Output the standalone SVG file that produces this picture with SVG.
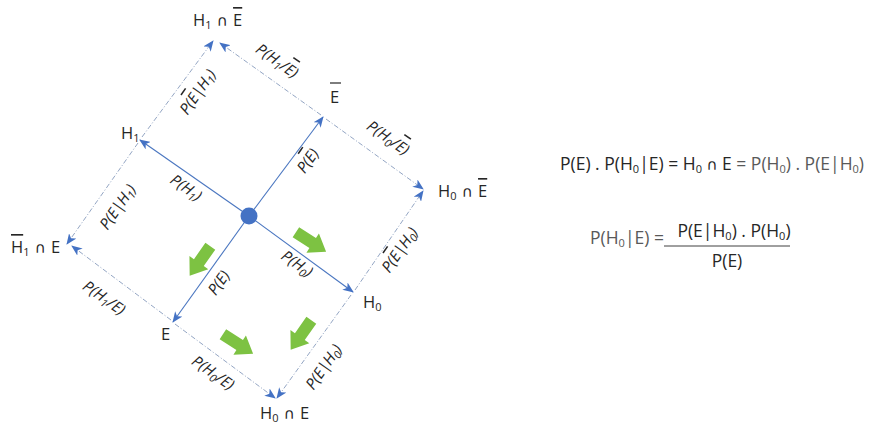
<svg xmlns="http://www.w3.org/2000/svg" width="872" height="425" viewBox="0 0 872 425">
  <style>
    .node { font-family: "Open Sans", "Liberation Sans", sans-serif; font-size: 16.5px; fill: #262626; word-spacing: 1px; }
    .cap { font-family: "DejaVu Sans", sans-serif; font-size: 15px; }
    .lbl { font-family: "Open Sans", "Liberation Sans", sans-serif; font-size: 15.5px; font-style: italic; fill: #262626; text-anchor: middle; }
    .sub { font-size: 11px; }
    .ov { text-decoration: overline; }
    .eq { font-family: "Open Sans", "Liberation Sans", sans-serif; font-size: 17.5px; fill: #262626; }
    .gray { fill: #595959; }
    .solid { stroke: #4a76c0; stroke-width: 1.1; fill: none; marker-end: url(#head); }
    .dash { stroke: #94a6c4; stroke-width: 1; fill: none; stroke-dasharray: 5 2 1 2; marker-end: url(#head); }
    .flow { fill: #7dc242; }
  </style>
  <defs>
    <marker id="head" markerUnits="userSpaceOnUse" markerWidth="11" markerHeight="9" refX="10" refY="4.5" orient="auto">
      <path d="M0,0 L11,4.5 L0,9 L3,4.5 Z" fill="#4472c4"/>
    </marker>
    <path id="block" d="M-18,-6 L2,-6 L2,-11.5 L18,0 L2,11.5 L2,6 L-18,6 Z"/>
  </defs>

  <!-- connectors: axes from the origin and the dashed paths to the joint outcomes -->
  <g id="connectors">
    <line class="solid" x1="249" y1="216" x2="140" y2="140"/>
    <line class="solid" x1="249" y1="216" x2="323" y2="117"/>
    <line class="solid" x1="249" y1="216" x2="353" y2="292"/>
    <line class="solid" x1="249" y1="216" x2="173" y2="322"/>

    <line class="dash" x1="142" y1="137" x2="213" y2="41"/>
    <line class="dash" x1="321" y1="115" x2="220" y2="43"/>
    <line class="dash" x1="326" y1="119" x2="423" y2="189"/>
    <line class="dash" x1="355" y1="290" x2="423" y2="191"/>
    <line class="dash" x1="138" y1="143" x2="67" y2="244"/>
    <line class="dash" x1="171" y1="320" x2="72" y2="246"/>
    <line class="dash" x1="175" y1="324" x2="275" y2="398"/>
    <line class="dash" x1="351" y1="295" x2="277" y2="398"/>
  </g>

  <!-- origin -->
  <g id="origin">
    <circle cx="249" cy="216" r="8.5" fill="#4472c4"/>
  </g>

  <!-- nodes -->
  <g id="node-H1">
    <text class="node" x="121" y="139">H<tspan class="sub" dy="3">1</tspan></text>
  </g>
  <g id="node-Ebar">
    <text class="node" x="330" y="103">E</text>
    <line x1="330" y1="83" x2="341" y2="83" stroke="#262626" stroke-width="1.2"/>
  </g>
  <g id="node-H0">
    <text class="node" x="363" y="308">H<tspan class="sub" dy="3">0</tspan></text>
  </g>
  <g id="node-E">
    <text class="node" x="161" y="340">E</text>
  </g>
  <g id="node-H1-and-Ebar">
    <text class="node" x="193" y="26">H<tspan class="sub" dy="3">1</tspan><tspan dy="-3"> <tspan class="cap">∩</tspan> </tspan><tspan class="ov">E</tspan></text>
  </g>
  <g id="node-H0-and-Ebar">
    <text class="node" x="438" y="197">H<tspan class="sub" dy="3">0</tspan><tspan dy="-3"> <tspan class="cap">∩</tspan> </tspan><tspan class="ov">E</tspan></text>
  </g>
  <g id="node-H1bar-and-E">
    <text class="node" x="11" y="253"><tspan class="ov">H</tspan><tspan class="sub" dy="3">1</tspan><tspan dy="-3"> <tspan class="cap">∩</tspan> E</tspan></text>
  </g>
  <g id="node-H0-and-E">
    <text class="node" x="260" y="419">H<tspan class="sub" dy="3">0</tspan><tspan dy="-3"> <tspan class="cap">∩</tspan> E</tspan></text>
  </g>

  <!-- probability labels along the edges -->
  <g id="edge-labels">
    <text class="lbl" transform="translate(186,188) rotate(35)" y="5">P(H<tspan class="sub" dy="3">1</tspan><tspan dy="-3">)</tspan></text>
    <text class="lbl" transform="translate(308,161) rotate(-55)" y="5">P(<tspan class="ov">E</tspan>)</text>
    <text class="lbl" transform="translate(297,264) rotate(35)" y="5">P(H<tspan class="sub" dy="3">0</tspan><tspan dy="-3">)</tspan></text>
    <text class="lbl" transform="translate(219,283) rotate(-55)" y="5">P(E)</text>

    <text class="lbl" transform="translate(198,92) rotate(-55)" y="5">P(<tspan class="ov">E</tspan>|H<tspan class="sub" dy="3">1</tspan><tspan dy="-3">)</tspan></text>
    <text class="lbl" transform="translate(277,61) rotate(35)" y="5">P(H<tspan class="sub" dy="3">1</tspan><tspan dy="-3">/</tspan><tspan class="ov">E</tspan>)</text>
    <text class="lbl" transform="translate(388,138) rotate(35)" y="5">P(H<tspan class="sub" dy="3">0</tspan><tspan dy="-3">/</tspan><tspan class="ov">E</tspan>)</text>
    <text class="lbl" transform="translate(400,250) rotate(-55)" y="5">P(<tspan class="ov">E</tspan>|H<tspan class="sub" dy="3">0</tspan><tspan dy="-3">)</tspan></text>
    <text class="lbl" transform="translate(118,207) rotate(-55)" y="5">P(E|H<tspan class="sub" dy="3">1</tspan><tspan dy="-3">)</tspan></text>
    <text class="lbl" transform="translate(104,298) rotate(35)" y="5">P(H<tspan class="sub" dy="3">1</tspan><tspan dy="-3">/E)</tspan></text>
    <text class="lbl" transform="translate(213,373) rotate(35)" y="5">P(H<tspan class="sub" dy="3">0</tspan><tspan dy="-3">/E)</tspan></text>
    <text class="lbl" transform="translate(324,367) rotate(-55)" y="5">P(E|H<tspan class="sub" dy="3">0</tspan><tspan dy="-3">)</tspan></text>
  </g>

  <!-- green flow arrows -->
  <g id="flow-arrows">
    <use href="#block" class="flow" transform="translate(200,261) rotate(125)"/>
    <use href="#block" class="flow" transform="translate(311,242) rotate(33)"/>
    <use href="#block" class="flow" transform="translate(238,344) rotate(33)"/>
    <use href="#block" class="flow" transform="translate(301,335) rotate(125)"/>
  </g>

  <!-- Bayes relations -->
  <g id="formulas">
    <text class="eq" x="560" y="170">P(E) . P(H<tspan class="sub" dy="3">0</tspan><tspan dy="-3">|E) = H</tspan><tspan class="sub" dy="3">0</tspan><tspan dy="-3"> <tspan class="cap">∩</tspan> E </tspan><tspan class="gray">= P(H</tspan><tspan class="sub gray" dy="3">0</tspan><tspan class="gray" dy="-3">) . P(E|H</tspan><tspan class="sub gray" dy="3">0</tspan><tspan class="gray" dy="-3">)</tspan></text>
    <text class="eq gray" x="590" y="244">P(H<tspan class="sub" dy="3">0</tspan><tspan dy="-3">|E) =</tspan></text>
    <text class="eq" x="734" y="237" text-anchor="middle">P(E|H<tspan class="sub" dy="3">0</tspan><tspan dy="-3">) . P(H</tspan><tspan class="sub" dy="3">0</tspan><tspan dy="-3">)</tspan></text>
    <line x1="664" y1="246" x2="790" y2="246" stroke="#404040" stroke-width="1"/>
    <text class="eq" x="727" y="267" text-anchor="middle">P(E)</text>
  </g>
</svg>
